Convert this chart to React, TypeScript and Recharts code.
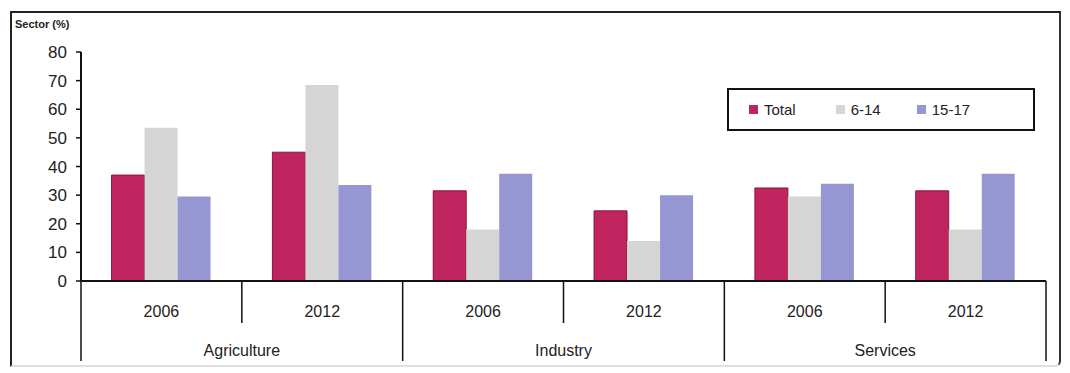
import React from "react";
import { BarChart, Bar, XAxis, YAxis } from "recharts";

const sectors = ["Agriculture", "Industry", "Services"];
const years = ["2006", "2012"];
const total = [37, 45, 31.5, 24.5, 32.5, 31.5];
const age6to14 = [53.5, 68.5, 18, 14, 29.5, 18];
const age15to17 = [29.5, 33.5, 37.5, 30, 34, 37.5];
const yTicks = [0, 10, 20, 30, 40, 50, 60, 70, 80];

const data = total.map((t, i) => ({
  year: years[i % 2],
  sector: sectors[Math.floor(i / 2)],
  total: t,
  a: age6to14[i],
  b: age15to17[i],
}));

const W = 1070;
const H = 373;
const X_H = 30;
const M = { top: 52, right: 24, bottom: 92 - X_H, left: 6 };
const Y_W = 75;
const FONT = "'Liberation Sans', Arial, sans-serif";
const plotW = W - M.left - Y_W - M.right;
const band = plotW / data.length;

const series = [
  { key: "total", name: "Total", color: "#C0245E" },
  { key: "a", name: "6-14", color: "#D5D5D5" },
  { key: "b", name: "15-17", color: "#9696D2" },
];

function YearTick(props: any) {
  const { x, y, payload, index } = props;
  const left = x - band / 2;
  const right = x + band / 2;
  const axisY = y - 8;
  const even = index % 2 === 0;
  return (
    <g>
      <line x1={left} x2={left} y1={axisY} y2={even ? axisY + 80 : axisY + 42} stroke="#111" strokeWidth={1.5} />
      {index === data.length - 1 && (
        <line x1={right} x2={right} y1={axisY} y2={axisY + 80} stroke="#111" strokeWidth={1.5} />
      )}
      <text x={x} y={axisY + 36} textAnchor="middle" fontSize={16} fill="#222" fontFamily={FONT}>
        {payload.value}
      </text>
      {even && (
        <text x={right} y={axisY + 75} textAnchor="middle" fontSize={16} fill="#222" fontFamily={FONT}>
          {data[index].sector}
        </text>
      )}
    </g>
  );
}

function LegendBox() {
  return (
    <div
      style={{
        position: "absolute",
        left: 727,
        top: 88,
        width: 304,
        height: 39,
        border: "2px solid #111",
        display: "flex",
        alignItems: "center",
        fontFamily: FONT,
        fontSize: 15,
        color: "#222",
        background: "#fff",
      }}
    >
      {series.map((s, i) => (
        <div key={s.key} style={{ display: "flex", alignItems: "center", marginLeft: i === 0 ? 20 : i === 1 ? 40 : 36 }}>
          <span style={{ width: 9, height: 9, background: s.color, marginRight: 6, display: "inline-block" }} />
          {s.name}
        </div>
      ))}
    </div>
  );
}

export default function App() {
  return (
    <div style={{ position: "relative", width: W, height: H, background: "#fff" }}>
      <style>{"body{margin:0}"}</style>
      <div
        style={{
          position: "absolute",
          left: 10,
          top: 11,
          width: 1051,
          height: 356,
          border: "2px solid #222",
          borderBottomColor: "#ddd",
          borderRightColor: "#333",
          borderRadius: "0 0 6px 0",
          boxSizing: "border-box",
        }}
      />
      <div style={{ position: "absolute", left: 15, top: 18, fontFamily: FONT, fontSize: 11, fontWeight: "bold", color: "#222" }}>
        Sector (%)
      </div>
      <div style={{ position: "absolute", left: 0, top: 0 }}>
        <BarChart width={W} height={H} data={data} margin={M} barCategoryGap="19%" barGap={0}>
          <YAxis
            width={Y_W}
            domain={[0, 80]}
            ticks={yTicks}
            interval={0}
            tickSize={5}
            tickMargin={9}
            axisLine={{ stroke: "#111", strokeWidth: 2 }}
            tickLine={{ stroke: "#111", strokeWidth: 1.5 }}
            tick={{ fontSize: 17, fill: "#222", fontFamily: FONT }}
          />
          <XAxis
            dataKey="year"
            height={X_H}
            interval={0}
            tickLine={false}
            tickSize={0}
            tickMargin={8}
            axisLine={{ stroke: "#111", strokeWidth: 2 }}
            tick={<YearTick />}
          />
          {series.map((s) => (
            <Bar
              key={s.key}
              dataKey={s.key}
              name={s.name}
              fill={s.color}
              stroke={s.key === "total" ? "#8A1540" : undefined}
              strokeWidth={1}
              isAnimationActive={false}
            />
          ))}
        </BarChart>
      </div>
      <LegendBox />
    </div>
  );
}
